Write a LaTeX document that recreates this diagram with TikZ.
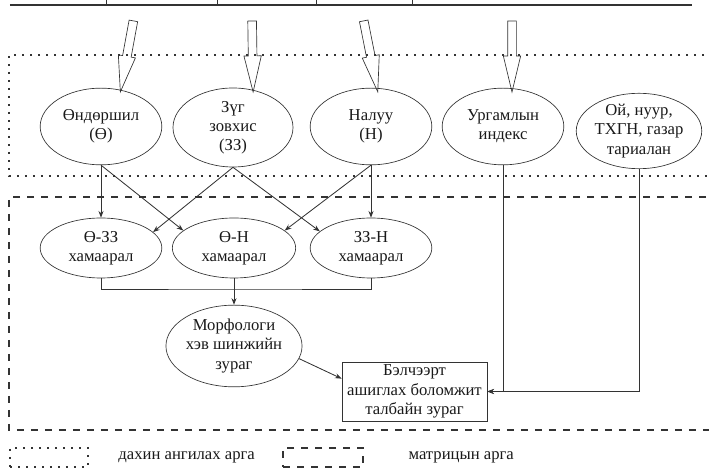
\documentclass[tikz,border=0pt]{standalone}
\usepackage{fontspec}
\setmainfont{Liberation Serif}
\usetikzlibrary{shapes.geometric}
\usetikzlibrary{shapes.arrows}
\usetikzlibrary{positioning}
\usetikzlibrary{arrows.meta}

\begin{document}
\begin{tikzpicture}[x=0.6pt, y=-0.6pt, black!80,
    every node/.style={font=\fontsize{10}{11.5}\selectfont, align=center, text=black!90},
    oval/.style={draw, ellipse, inner sep=0pt, minimum width=73pt, minimum height=46pt},
    blockarrow/.style={draw, single arrow, inner sep=2.4pt, single arrow head extend=2.6pt, single arrow tip angle=27},
    link/.style={-{Stealth[length=4pt,width=3pt]}, line width=0.5pt},
    dotline/.style={line width=1.4pt, dash pattern=on 1.3pt off 3.5pt},
    dashline/.style={line width=1.6pt, dash pattern=on 4pt off 4.4pt}]
            \useasboundingbox (0,0) rectangle (709,468);
            \clip (0,0) rectangle (709,468);

            % table edge above
            \draw[line width=0.9pt] (10,5) -- (692,5);
            \foreach \x in {106,217,316,412}
                \draw[line width=0.6pt] (\x,0) -- (\x,5);

            % frames
            \draw[dotline] (720,55) -| (9,176) -- (720,176);
            \draw[dashline] (720,197) -| (9,430) -- (720,430);

            \node[blockarrow, minimum height=43.3pt, rotate=-100.4] (arrA) at (128.5,47.5) {};
            \node[blockarrow, minimum height=42.6pt, rotate=-89.2] (arrB) at (252.5,47.5) {};
            \node[blockarrow, minimum height=43.4pt, rotate=-78.8] (arrC) at (369,47.5) {};
            \node[blockarrow, minimum height=42.6pt, rotate=-90] (arrD) at (512,47.5) {};

            \node[oval] (ond) at (101,126.5) {Өндөршил\\(Ө)};
            \node[oval, minimum width=72pt, minimum height=47.4pt] (zug) at (233,127.5) {Зүг\\зовхис\\(ЗЗ)};
            \node[oval] (nal) at (371,126.5) {Налуу\\(Н)};
            \node[oval] (urg) at (503,126.5) {Ургамлын\\индекс};
            \node[oval, minimum width=75pt, minimum height=43.2pt] (oi) at (639,131) {Ой, нуур,\\ТХГН, газар\\тариалан};

            \node[oval, minimum height=36pt] (oz) at (101,248) {Ө-ЗЗ\\хамаарал};
            \node[oval, minimum width=74pt, minimum height=36pt] (on) at (234,248) {Ө-Н\\хамаарал};
            \node[oval, minimum height=36pt] (zn) at (371,248) {ЗЗ-Н\\хамаарал};

            \node[oval, minimum width=71pt, minimum height=49pt] (morph) at (234,346) {Морфологи\\хэв шинжийн\\зураг};
            \node[draw, rectangle, inner sep=0pt, minimum width=87pt, minimum height=35.4pt] (pasture) at (414.5,391.5) {Бэлчээрт\\ашиглах боломжит\\талбайн зураг};

            \draw[link] (ond.south) -- (oz.north);
            \draw[link] (ond.south) -- (on.161);
            \draw[link] (zug.south) -- (oz.17);
            \draw[link] (zug.south) -- (zn.162);
            \draw[link] (nal.south) -- (on.19);
            \draw[link] (nal.south) -- (zn.north);

            \coordinate (merge) at (234,289);
            \draw[line width=0.5pt] (oz.south) |- (merge) -| (zn.south);
            \draw[link] (on.south) -- (morph.north);
            \draw[link] (morph.-11) -- (pasture.170);
            \draw[link] (urg.south) |- (pasture.east);
            \draw[link] (oi.south) |- (pasture.east);

            % legend
            \node[draw, dotline, minimum width=46.8pt, minimum height=11.4pt] (legdot) at (49,457.5) {};
            \node[right=14pt of legdot] (legdottext) {дахин ангилах арга};
            \node[draw, dashline, minimum width=48pt, minimum height=11.4pt] (legdash) at (323,457.5) {};
            \node[right=23pt of legdash] (legdashtext) {матрицын арга};
        \end{tikzpicture}
\end{document}
